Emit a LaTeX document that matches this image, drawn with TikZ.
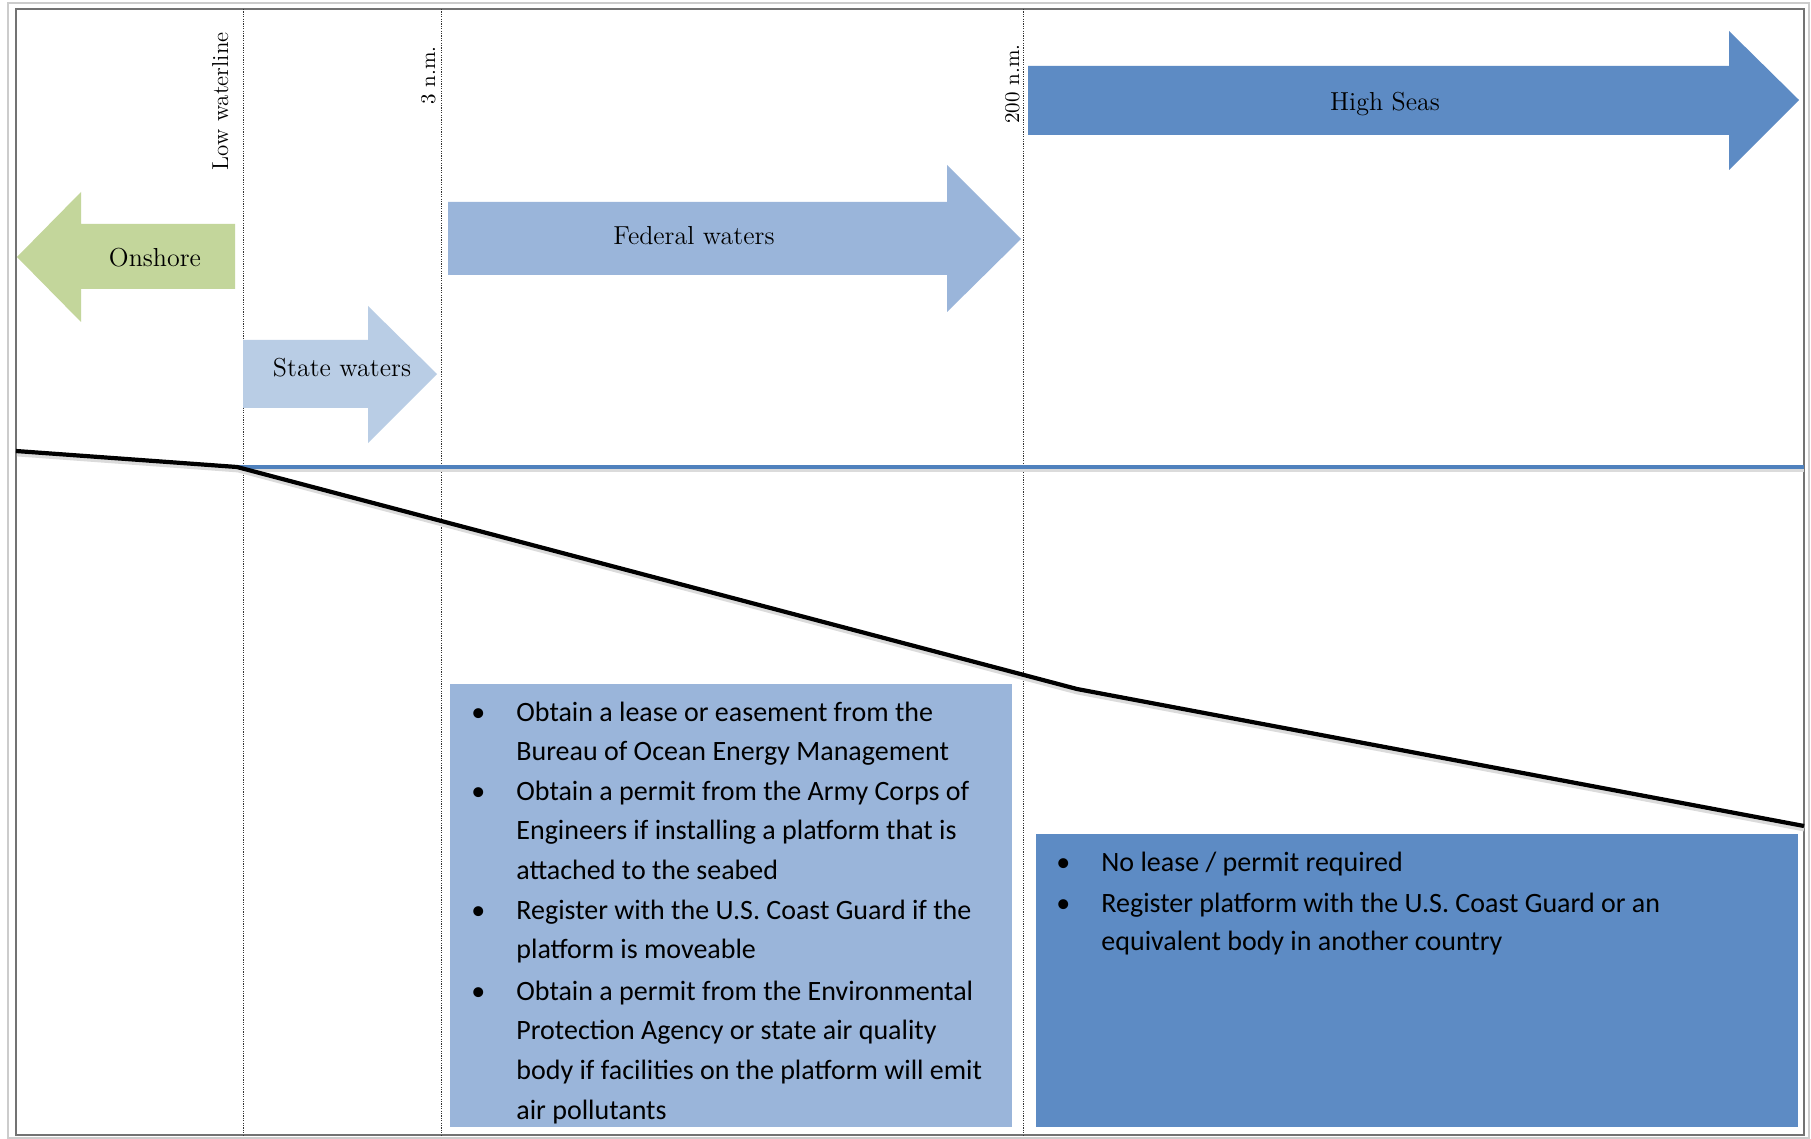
\documentclass[tikz,border=0pt]{standalone}
\usepackage{fontspec}
\newfontfamily\bodyfont{Carlito}
\definecolor{onshore}{HTML}{C3D69B}
\definecolor{statec}{HTML}{B9CDE5}
\definecolor{fedc}{HTML}{9AB5DA}
\definecolor{highc}{HTML}{5D8BC4}
\definecolor{seaLine}{HTML}{4F81BD}
\begin{document}
\begin{tikzpicture}[x=0.5pt,y=-0.5pt,
  zoneline/.style={draw=black!80,line width=0.5pt,dash pattern=on 0.6pt off 0.6pt},
  rotlbl/.style={rotate=90,anchor=base east,inner sep=0pt,font=\fontsize{10.5}{12}\selectfont},
  arrowlbl/.style={anchor=base,inner sep=0pt,font=\fontsize{13}{15}\selectfont},
  boxtext/.style={anchor=base west,inner sep=0pt,font=\bodyfont\fontsize{14}{19.8}\selectfont},
  shadowline/.style={draw=black!14,line width=2.4pt,line join=round},
]
\useasboundingbox (0,0) rectangle (1811,1139);
\fill[white] (0,0) rectangle (1811,1139);
% frames
\draw[black!20,line width=0.6pt] (8,3) rectangle (1809,1138);
\draw[black!55,line width=0.8pt] (16,9) rectangle (1804,1135);
% zone boundaries
\draw[zoneline] (243,9) -- (243,1135);
\draw[zoneline] (441,9) -- (441,1135);
\draw[zoneline] (1023,9) -- (1023,1135);
\node[rotlbl,font=\fontsize{11.5}{13}\selectfont] (lowwl) at (228,32) {Low waterline};
\node[rotlbl] (threenm) at (435,46) {3 n.m.};
\node[rotlbl] (twohnm) at (1019,44) {200 n.m.};
% zone arrows
\fill[onshore] (17,257) -- (81,192) -- (81,224) -- (235,224) -- (235,289) -- (81,289) -- (81,322) -- cycle;
\node[arrowlbl] (onshoreT) at (155,267) {Onshore};
\fill[statec] (243,340) -- (368,340) -- (368,306) -- (437,374) -- (368,443) -- (368,408) -- (243,408) -- cycle;
\node[arrowlbl] (stateT) at (342,377) {State waters};
\fill[fedc] (448,202) -- (947,202) -- (947,165) -- (1021,239) -- (947,312) -- (947,275) -- (448,275) -- cycle;
\node[arrowlbl] (fedT) at (694,245) {Federal waters};
\fill[highc] (1028,66) -- (1729,66) -- (1729,31) -- (1799,100) -- (1729,170) -- (1729,135) -- (1028,135) -- cycle;
\node[arrowlbl] (highT) at (1385,111) {High Seas};
% sea surface and sea bed
\draw[shadowline] (239,470) -- (1804,470);
\draw[seaLine,line width=2.1pt] (237,467) -- (1804,467);
\draw[shadowline] (17,454) -- (238,470) -- (1077,692) -- (1804,829);
\draw[black,line width=2.1pt,line join=round] (16,451) -- (237,467) -- (1077,689) -- (1804,826);
% requirement boxes
\fill[fedc] (450,684) rectangle (1012,1127);
\fill[highc] (1036,834) rectangle (1798,1127);
\node[boxtext] (fedreq) at (471,721) {\begin{tabular}[t]{@{}p{22.5pt}@{}l@{}}
•& Obtain a lease or easement from the\\
 & Bureau of Ocean Energy Management\\
•& Obtain a permit from the Army Corps of\\
 & Engineers if installing a platform that is\\
 & attached to the seabed\\
•& Register with the U.S. Coast Guard if the\\
 & platform is moveable\\[1pt]
•& Obtain a permit from the Environmental\\
 & Protection Agency or state air quality\\
 & body if facilities on the platform will emit\\
 & air pollutants
\end{tabular}};
\node[boxtext] (highreq) at (1056,871) {\begin{tabular}[t]{@{}p{22.5pt}@{}l@{}}
•& No lease / permit required\\[1pt]
•& Register platform with the U.S. Coast Guard or an\\[-0.8pt]
 & equivalent body in another country
\end{tabular}};
\end{tikzpicture}
\end{document}
